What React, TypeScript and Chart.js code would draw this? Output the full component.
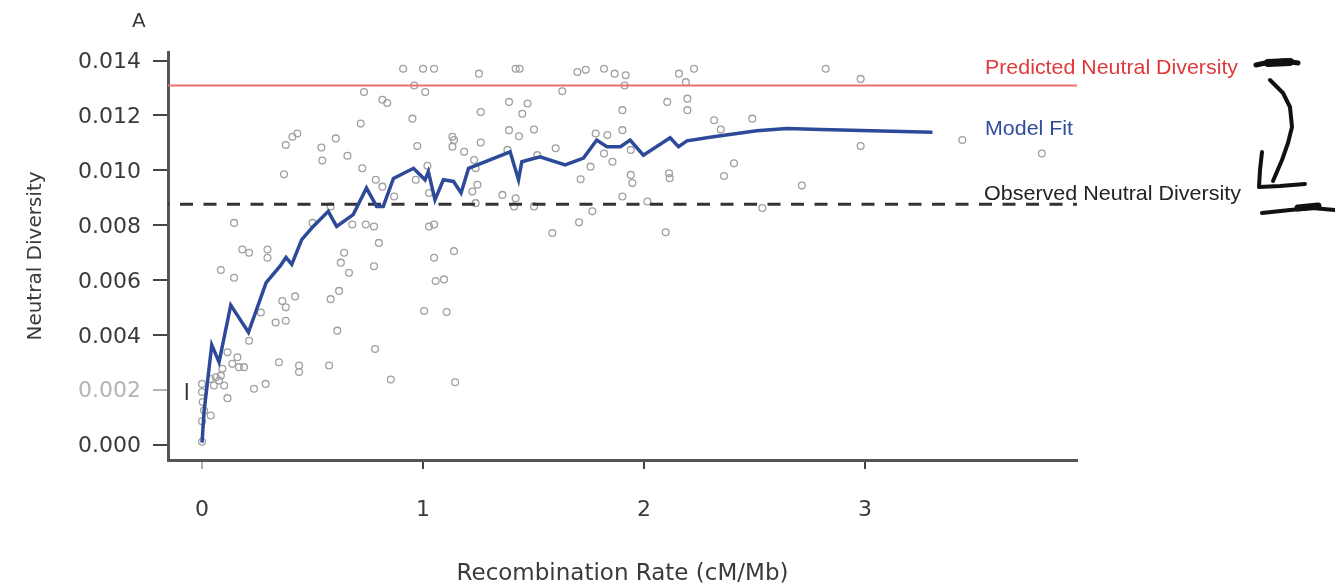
import React, { useEffect, useRef } from "react";
import { Chart, registerables } from "chart.js";

Chart.register(...registerables);

// ---------- data ----------
const RATE = [
  0.91, 1.0, 1.05, 0.96, 1.01, 0.733, 0.816, 0.838, 0.952, 0.718,
  0.431, 0.409, 0.379, 0.605, 0.54, 0.658, 0.544, 0.974, 1.133, 1.133,
  1.186, 0.371, 0.725, 0.786, 0.816, 1.02, 0.967, 1.027, 0.869, 0.582,
  0.145, 0.68, 0.741, 0.778, 0.5, 1.027, 1.05, 0.8, 0.182, 0.213,
  0.296, 0.643, 1.14, 1.253, 1.419, 1.437, 1.63, 1.698, 1.736, 1.819,
  1.867, 1.917, 1.912, 2.158, 2.189, 2.226, 1.261, 1.389, 1.473, 1.449,
  1.389, 1.434, 1.502, 1.261, 1.14, 1.382, 1.517, 1.6, 1.781, 1.834,
  1.902, 1.902, 2.105, 2.196, 2.196, 2.317, 2.347, 2.49, 1.819, 1.857,
  1.94, 1.231, 1.238, 1.246, 1.223, 1.238, 1.359, 1.419, 1.412, 1.502,
  1.713, 1.758, 1.94, 1.947, 1.902, 2.015, 2.113, 2.116, 2.407, 2.362,
  1.766, 1.706, 1.585, 2.098, 2.535, 2.822, 2.98, 2.98, 3.44, 3.8,
  2.714, 0.296, 0.085, 0.145, 0.628, 0.665, 0.778, 1.05, 1.057, 1.095,
  0.582, 0.62, 0.363, 0.379, 0.421, 0.333, 0.379, 0.266, 0.612, 1.005,
  1.107, 0.783, 0.213, 0.115, 0.16, 0.137, 0.167, 0.19, 0.092, 0.085,
  0.077, 0.1, 0.348, 0.439, 0.439, 0.575, 0.854, 1.145, 0.235, 0.288,
  0.115, 0.0, 0.0, 0.003, 0.009, 0.0, 0.039, 0.054, 0.039, 0.062,
  0.0,
];

const DIVERSITY = [
  0.0137, 0.0137, 0.0137, 0.01309, 0.01285, 0.01285, 0.01257, 0.01245, 0.01188, 0.0117,
  0.01134, 0.01122, 0.01092, 0.01116, 0.01083, 0.01053, 0.01035, 0.01088, 0.01122, 0.01086,
  0.01067, 0.00985, 0.01007, 0.00965, 0.0094, 0.01016, 0.00965, 0.00917, 0.00904, 0.00868,
  0.00808, 0.00802, 0.00802, 0.00795, 0.00808, 0.00795, 0.00802, 0.00735, 0.00711, 0.00699,
  0.00711, 0.00699, 0.00705, 0.01352, 0.0137, 0.0137, 0.01288, 0.01358, 0.01366, 0.0137,
  0.01352, 0.01346, 0.01309, 0.01352, 0.01321, 0.0137, 0.01212, 0.01249, 0.01243, 0.01206,
  0.01146, 0.01124, 0.01148, 0.01101, 0.0111, 0.01074, 0.01055, 0.0108, 0.01134, 0.01128,
  0.01219, 0.01146, 0.01249, 0.01261, 0.01219, 0.01182, 0.01148, 0.01188, 0.01061, 0.01031,
  0.01074, 0.01037, 0.01007, 0.00947, 0.00922, 0.0088, 0.0091, 0.00898, 0.00868, 0.00868,
  0.00967, 0.01013, 0.00983, 0.00953, 0.00904, 0.00886, 0.00989, 0.00971, 0.01025, 0.00979,
  0.0085, 0.0081, 0.00771, 0.00774, 0.00862, 0.0137, 0.01333, 0.01088, 0.0111, 0.01061,
  0.00944, 0.00681, 0.00636, 0.00608, 0.00663, 0.00626, 0.0065, 0.00681, 0.00596, 0.00602,
  0.0053, 0.0056, 0.00523, 0.005, 0.0054, 0.00445, 0.00451, 0.00481, 0.00415, 0.00487,
  0.00483, 0.00348, 0.00378, 0.00336, 0.00318, 0.00294, 0.00282, 0.00282, 0.00276, 0.00251,
  0.00233, 0.00215, 0.003, 0.00288, 0.00264, 0.00288, 0.00237, 0.00227, 0.00203, 0.00221,
  0.00169, 0.00221, 0.00191, 0.00155, 0.00124, 0.00085, 0.00106, 0.00215, 0.00239, 0.00245,
  0.0001,
];

const FIT_RATE = [
  0, 0.009, 0.044, 0.077, 0.13, 0.21, 0.29, 0.353, 0.38, 0.406,
  0.451, 0.503, 0.571, 0.609, 0.684, 0.744, 0.79, 0.82, 0.866, 0.957,
  1.009, 1.024, 1.054, 1.092, 1.138, 1.172, 1.206, 1.394, 1.432, 1.447,
  1.529, 1.643, 1.726, 1.786, 1.832, 1.893, 1.937, 1.997, 2.118, 2.156,
  2.194, 2.314, 2.51, 2.646, 2.8, 3.305,
];

const FIT_DIVERSITY = [
  0.00007, 0.00119, 0.00363, 0.003, 0.00508, 0.00409, 0.0059, 0.0065, 0.00682, 0.00657,
  0.00747, 0.00795, 0.0085, 0.00795, 0.00838, 0.00935, 0.00868, 0.00868, 0.0097, 0.01007,
  0.00965, 0.00995, 0.00892, 0.00965, 0.00959, 0.00917, 0.01007, 0.01067, 0.00965, 0.01031,
  0.01049, 0.01019, 0.01044, 0.0111, 0.01086, 0.01086, 0.0111, 0.01055, 0.01118, 0.01086,
  0.01107, 0.01122, 0.01144, 0.01152, 0.01148, 0.01138,
];

const PREDICTED_DIVERSITY = 0.01309;
const OBSERVED_DIVERSITY = 0.00876;

const ERRBAR_RATE = -0.069;
const ERRBAR_LOW = 0.00162;
const ERRBAR_HIGH = 0.00224;

const X_TICKS = [0, 1, 2, 3];
const Y_TICKS = [0, 0.002, 0.004, 0.006, 0.008, 0.01, 0.012, 0.014];

const X_MIN = -0.154;
const X_MAX = 3.959;
const Y_MIN = -0.000565;
const Y_MAX = 0.01431;

const LABEL_PREDICTED = "Predicted Neutral Diversity";
const LABEL_FIT = "Model Fit";
const LABEL_OBSERVED = "Observed Neutral Diversity";
const X_TITLE = "Recombination Rate (cM/Mb)";
const Y_TITLE = "Neutral Diversity";
const PANEL = "A";

const FONT = "'DejaVu Sans', 'Liberation Sans', sans-serif";
const TEXT = "#3a3a3a";
const FAINT = "#b4b4b4";

function drawStretched(
  ctx: CanvasRenderingContext2D,
  text: string,
  x: number,
  y: number,
  width: number,
  color: string,
  size: number
) {
  ctx.save();
  ctx.font = `${size}px 'Liberation Sans', Arial, sans-serif`;
  ctx.fillStyle = color;
  ctx.textBaseline = "middle";
  ctx.textAlign = "left";
  const w = ctx.measureText(text).width;
  ctx.translate(x, y);
  ctx.scale(width / w, 1);
  ctx.fillText(text, 0, 0);
  ctx.restore();
}

function stroke(ctx: CanvasRenderingContext2D, pts: number[][], w: number) {
  ctx.beginPath();
  ctx.lineWidth = w;
  pts.forEach((p, i) => (i === 0 ? ctx.moveTo(p[0], p[1]) : ctx.lineTo(p[0], p[1])));
  ctx.stroke();
}

const annotationPlugin = {
  id: "annotations",
  afterDraw(chart: any) {
    const ctx: CanvasRenderingContext2D = chart.ctx;
    const ys = chart.scales.y;
    const yPred = ys.getPixelForValue(PREDICTED_DIVERSITY);
    const yObs = ys.getPixelForValue(OBSERVED_DIVERSITY);
    ctx.save();
    ctx.font = `20px ${FONT}`;
    ctx.fillStyle = TEXT;
    ctx.textBaseline = "middle";
    ctx.fillText(PANEL, 132, 22);

    drawStretched(ctx, LABEL_PREDICTED, 985, yPred - 17, 253, "#e0393b", 21);
    drawStretched(ctx, LABEL_FIT, 985, 129, 88, "#2f4d9c", 21);
    drawStretched(ctx, LABEL_OBSERVED, 984, yObs - 10, 257, "#222", 21);

    // hand-drawn arrow scribble
    ctx.strokeStyle = "#111";
    ctx.lineCap = "round";
    ctx.lineJoin = "round";
    stroke(ctx, [[1256, 65], [1270, 62], [1285, 61], [1298, 63]], 5);
    stroke(ctx, [[1268, 63], [1290, 62]], 8);
    stroke(ctx, [[1270, 80], [1283, 93], [1290, 107], [1292, 127], [1288, 143], [1282, 160], [1273, 181]], 4);
    stroke(ctx, [[1262, 152], [1260, 170], [1259, 187], [1280, 186], [1305, 184]], 4);
    stroke(ctx, [[1262, 213], [1290, 210], [1312, 208], [1335, 210]], 4);
    stroke(ctx, [[1298, 208], [1318, 206]], 7);
    ctx.restore();
  },
};

export default function App() {
  const ref = useRef<HTMLCanvasElement>(null);

  useEffect(() => {
    const scatter = RATE.map((x, i) => ({ x, y: DIVERSITY[i] }));
    const fit = FIT_RATE.map((x, i) => ({ x, y: FIT_DIVERSITY[i] }));
    const isFaintY = (v: number) => Math.abs(v - 0.002) < 1e-9;
    const isFaintX = (v: number) => Math.abs(v) < 1e-9;

    const chart = new Chart(ref.current as HTMLCanvasElement, {
      type: "scatter",
      data: {
        datasets: [
          {
            label: "Model Fit",
            data: fit,
            showLine: true,
            borderColor: "#2c4a98",
            borderWidth: 3.5,
            pointRadius: 0,
            order: 0,
          },
          {
            label: "Observed",
            data: [
              { x: X_MIN, y: OBSERVED_DIVERSITY },
              { x: X_MAX, y: OBSERVED_DIVERSITY },
            ],
            showLine: true,
            borderColor: "#333",
            borderWidth: 3,
            borderDash: [13, 10.5],
            borderDashOffset: -12,
            pointRadius: 0,
            order: 1,
          },
          {
            label: "Predicted",
            data: [
              { x: X_MIN, y: PREDICTED_DIVERSITY },
              { x: X_MAX, y: PREDICTED_DIVERSITY },
            ],
            showLine: true,
            borderColor: "rgb(236,112,112)",
            borderWidth: 2,
            pointRadius: 0,
            order: 2,
          },
          {
            label: "Error",
            data: [
              { x: ERRBAR_RATE, y: ERRBAR_LOW },
              { x: ERRBAR_RATE, y: ERRBAR_HIGH },
            ],
            showLine: true,
            borderColor: "#333",
            borderWidth: 2,
            pointRadius: 0,
            order: 3,
          },
          {
            label: "Windows",
            data: scatter,
            pointStyle: "circle",
            pointRadius: 3.4,
            borderColor: "#a0a0a0",
            backgroundColor: "rgba(0,0,0,0)",
            borderWidth: 1.3,
            order: 4,
          },
        ],
      },
      options: {
        animation: false,
        responsive: true,
        maintainAspectRatio: false,
        layout: { padding: { top: 52, right: 258, left: 0, bottom: 0 } },
        plugins: {
          legend: { display: false },
          tooltip: { enabled: false },
          title: { display: false },
        },
        scales: {
          x: {
            type: "linear",
            min: X_MIN,
            max: X_MAX,
            afterBuildTicks: (s: any) => {
              s.ticks = X_TICKS.map((v) => ({ value: v }));
            },
            afterFit: (s: any) => {
              s.height = 123;
            },
            grid: {
              drawOnChartArea: false,
              drawTicks: true,
              tickLength: 9,
              lineWidth: 2,
              color: (c: any) => (c.tick && isFaintX(c.tick.value) ? FAINT : "#444"),
            },
            border: { display: true, color: "#555", width: 3 },
            ticks: {
              padding: 28,
              autoSkip: false,
              maxRotation: 0,
              font: { family: FONT, size: 22 },
              color: TEXT,
              callback: (v: any) => String(v),
            },
            title: {
              display: true,
              text: X_TITLE,
              font: { family: FONT, size: 23 },
              color: TEXT,
              padding: { top: 0, bottom: -5 },
            },
          },
          y: {
            type: "linear",
            min: Y_MIN,
            max: Y_MAX,
            afterBuildTicks: (s: any) => {
              s.ticks = Y_TICKS.map((v) => ({ value: v }));
            },
            afterFit: (s: any) => {
              s.width = 168;
            },
            grid: {
              drawOnChartArea: false,
              drawTicks: true,
              tickLength: 15,
              lineWidth: 2,
              color: (c: any) => (c.tick && isFaintY(c.tick.value) ? FAINT : "#444"),
            },
            border: { display: true, color: "#555", width: 3 },
            ticks: {
              padding: 12,
              autoSkip: false,
              labelOffset: 2,
              font: { family: FONT, size: 22 },
              color: (c: any) => (c.tick && isFaintY(c.tick.value) ? FAINT : TEXT),
              callback: (v: any) => Number(v).toFixed(3),
            },
            title: {
              display: true,
              text: Y_TITLE,
              font: { family: FONT, size: 20 },
              color: TEXT,
              padding: { top: 24, bottom: 0 },
            },
          },
        },
      },
      plugins: [annotationPlugin],
    } as any);

    return () => chart.destroy();
  }, []);

  return (
    <div
      style={{
        position: "absolute",
        left: 0,
        top: 0,
        width: 1335,
        height: 583,
        background: "#fff",
      }}
    >
      <canvas ref={ref} />
    </div>
  );
}
